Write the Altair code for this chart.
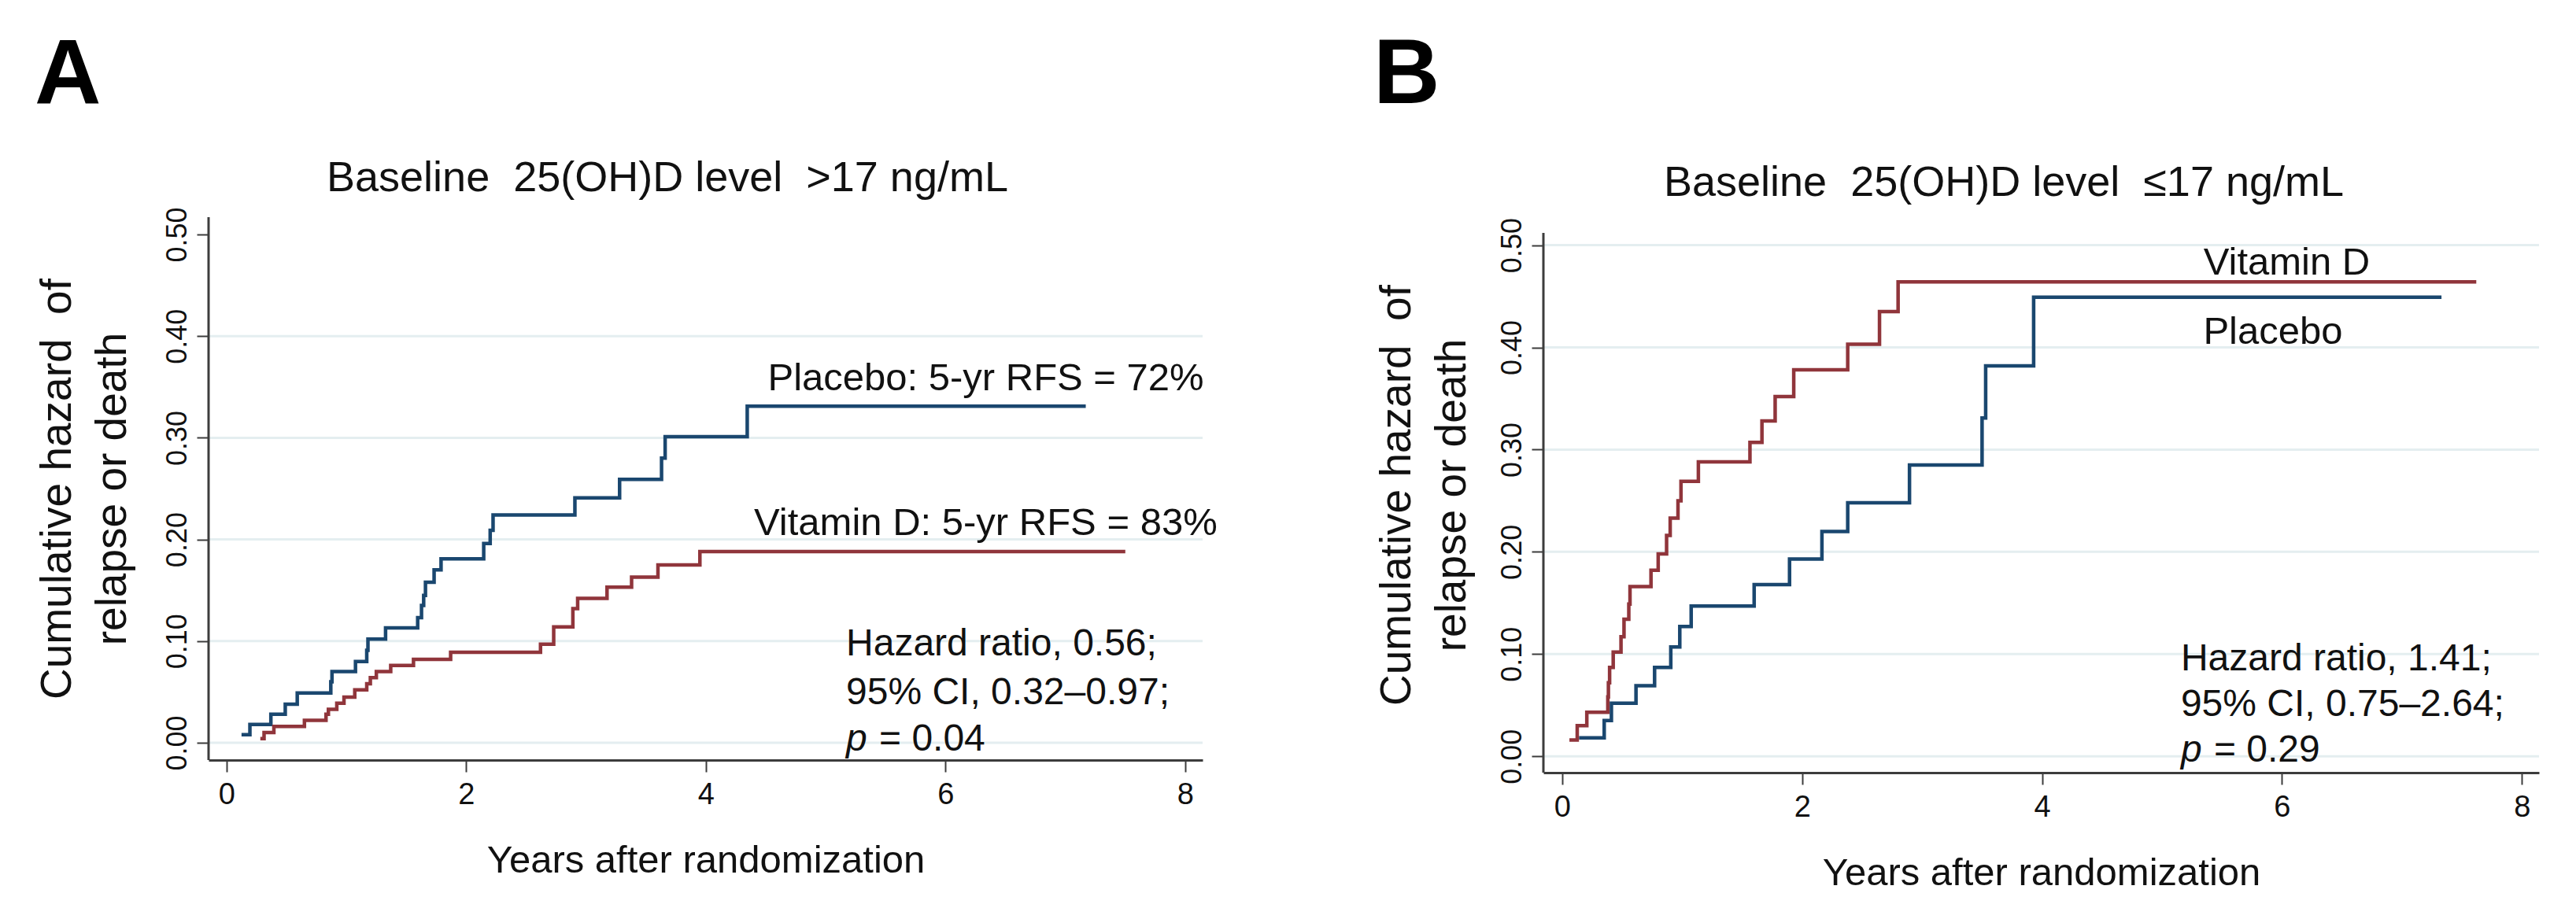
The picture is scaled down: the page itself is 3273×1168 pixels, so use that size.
import altair as alt
import pandas as pd

FONT = "Liberation Sans"
BLUE = "#1a476f"
RED = "#90353b"
GRID = "#e4eef0"
AXC = "#3c3c3c"
TXT = "#111111"

# ---------------- data ----------------
# Panel A: baseline 25(OH)D > 17 ng/mL
a_plac_t = [0.125, 0.195, 0.37, 0.49, 0.59, 0.87, 0.88, 1.076, 1.17, 1.18, 1.327, 1.595,
            1.627, 1.645, 1.66, 1.732, 1.79, 2.146, 2.20, 2.224, 2.907, 3.28, 3.63, 3.66,
            4.345, 7.17]
a_plac_h = [0.008, 0.018, 0.028, 0.038, 0.049, 0.060, 0.070, 0.080, 0.091, 0.102, 0.113, 0.123,
            0.135, 0.145, 0.158, 0.170, 0.181, 0.196, 0.209, 0.224, 0.241, 0.259, 0.280, 0.301,
            0.331, 0.331]
a_vitd_t = [0.282, 0.313, 0.395, 0.65, 0.83, 0.85, 0.92, 0.98, 1.07, 1.17, 1.20, 1.25, 1.37,
            1.56, 1.87, 2.62, 2.73, 2.89, 2.93, 3.175, 3.38, 3.60, 3.95, 7.50]
a_vitd_h = [0.004, 0.010, 0.016, 0.022, 0.028, 0.033, 0.039, 0.045, 0.052, 0.058, 0.064, 0.070,
            0.076, 0.082, 0.089, 0.097, 0.114, 0.132, 0.142, 0.153, 0.163, 0.175, 0.188, 0.188]

# Panel B: baseline 25(OH)D <= 17 ng/mL
b_plac_t = [0.14, 0.35, 0.41, 0.615, 0.77, 0.905, 0.98, 1.075, 1.60, 1.895, 2.165, 2.38,
            2.895, 3.50, 3.53, 3.93, 7.33]
b_plac_h = [0.018, 0.035, 0.052, 0.069, 0.087, 0.107, 0.127, 0.147, 0.168, 0.193, 0.220, 0.248,
            0.285, 0.331, 0.382, 0.449, 0.449]
b_vitd_t = [0.06, 0.125, 0.205, 0.38, 0.385, 0.395, 0.425, 0.49, 0.515, 0.555, 0.565, 0.74,
            0.80, 0.87, 0.90, 0.965, 0.99, 1.135, 1.565, 1.665, 1.775, 1.93, 2.38, 2.645,
            2.80, 7.62]
b_vitd_h = [0.016, 0.030, 0.043, 0.058, 0.072, 0.087, 0.102, 0.117, 0.134, 0.149, 0.166, 0.182,
            0.198, 0.216, 0.233, 0.250, 0.269, 0.288, 0.307, 0.328, 0.352, 0.378, 0.403, 0.435,
            0.464, 0.464]

groups = ["Placebo", "Vitamin D"]
x_ticks = [0, 2, 4, 6, 8]
y_ticks = [0.0, 0.1, 0.2, 0.3, 0.4, 0.5]
grid_a = [0.0, 0.1, 0.2, 0.3, 0.4]
grid_b = [0.0, 0.1, 0.2, 0.3, 0.4, 0.5]

title_a = "Baseline\u00a0\u00a025(OH)D level\u00a0\u00a0>17 ng/mL"
title_b = "Baseline\u00a0\u00a025(OH)D level\u00a0\u00a0\u226417 ng/mL"
y_title = ["Cumulative hazard\u00a0\u00a0of", "relapse or death"]
x_title = "Years after randomization"

a_labels = ["Placebo: 5-yr RFS = 72%", "Vitamin D: 5-yr RFS = 83%"]
a_label_x = [8.156, 8.268]
a_label_y = [0.3465, 0.2045]
b_labels = ["Vitamin D", "Placebo"]
b_label_x = [6.04, 5.925]
b_label_y = [0.471, 0.4034]

a_hr = ["Hazard ratio, 0.56;", "95% CI, 0.32\u20130.97;"]
a_hr_p = "= 0.04"
a_hr_x = 5.17
a_hr_y = [0.086, 0.038, -0.0077]
b_hr = ["Hazard ratio, 1.41;", "95% CI, 0.75\u20132.64;"]
b_hr_p = "= 0.29"
b_hr_x = 5.157
b_hr_y = [0.0839, 0.0393, -0.0054]


def steps(t_plac, h_plac, t_vitd, h_vitd):
    rows = []
    for t, h in zip(t_plac, h_plac):
        rows.append({"t": t, "h": h, "grp": groups[0]})
    for t, h in zip(t_vitd, h_vitd):
        rows.append({"t": t, "h": h, "grp": groups[1]})
    return pd.DataFrame(rows)


def panel(df, grid_vals, xdom, ydom, yaxis_top, w, h, letter, letter_xy, title, title_xy,
          lab_text, lab_x, lab_y, lab_align, hr_lines, hr_p, hr_x, hr_y, ytitle_x):
    xs = alt.Scale(domain=xdom, nice=False, zero=False)
    ys = alt.Scale(domain=ydom, nice=False, zero=False)

    xaxis = alt.Axis(values=x_ticks, format="d", title=x_title, grid=False,
                     labelFontSize=38, labelFont=FONT, labelColor=TXT,
                     titleFontSize=49, titleFont=FONT, titleFontWeight="normal", titleColor=TXT,
                     tickSize=15, tickWidth=2, tickColor=AXC, domainWidth=3, domainColor=AXC,
                     labelPadding=10, titlePadding=40, labelFlush=False, labelOverlap=False)
    yaxis = alt.Axis(values=y_ticks, format=".2f", title=y_title, grid=False, domain=False,
                     labelAngle=270, labelAlign="center", labelBaseline="bottom",
                     labelFontSize=36, labelFont=FONT, labelColor=TXT, labelPadding=6,
                     titleFontSize=55, titleFont=FONT, titleFontWeight="normal", titleColor=TXT,
                     titleLineHeight=70, titleX=ytitle_x,
                     tickSize=15, tickWidth=2, tickColor=AXC,
                     labelFlush=False, labelOverlap=False)

    X = lambda: alt.X("t:Q", scale=xs, axis=xaxis)
    Y = lambda: alt.Y("h:Q", scale=ys, axis=yaxis)

    gdf = pd.DataFrame({"h": grid_vals})
    grid = alt.Chart(gdf).mark_rule(color=GRID, strokeWidth=3).encode(y=Y())

    # y-axis line drawn as a rule through the scales (ends at the axis top)
    adf = pd.DataFrame({"t": [xdom[0]], "h": [ydom[0]], "h2": [yaxis_top]})
    axis_line = alt.Chart(adf).mark_rule(color=AXC, strokeWidth=3).encode(
        x=X(), y=Y(), y2="h2:Q")

    lines = alt.Chart(df).mark_line(interpolate="step-after", strokeWidth=4.5).encode(
        x=X(), y=Y(),
        color=alt.Color("grp:N", scale=alt.Scale(domain=groups, range=[BLUE, RED]), legend=None),
    )

    ldf = pd.DataFrame({"t": lab_x, "h": lab_y, "txt": lab_text})
    labels = alt.Chart(ldf).mark_text(align=lab_align, baseline="alphabetic", fontSize=49,
                                      font=FONT, color=TXT).encode(x=X(), y=Y(), text="txt:N")

    hdf = pd.DataFrame({"t": [hr_x, hr_x], "h": hr_y[:2], "txt": hr_lines})
    hr = alt.Chart(hdf).mark_text(align="left", baseline="alphabetic", fontSize=48,
                                  font=FONT, color=TXT).encode(x=X(), y=Y(), text="txt:N")
    pdf = pd.DataFrame({"t": [hr_x], "h": [hr_y[2]], "txt": ["p"]})
    hr_p1 = alt.Chart(pdf).mark_text(align="left", baseline="alphabetic", fontSize=48,
                                     font=FONT, fontStyle="italic", color=TXT).encode(
        x=X(), y=Y(), text="txt:N")
    pdf2 = pd.DataFrame({"t": [hr_x], "h": [hr_y[2]], "txt": [hr_p]})
    hr_p2 = alt.Chart(pdf2).mark_text(align="left", baseline="alphabetic", fontSize=48, dx=42,
                                      font=FONT, color=TXT).encode(x=X(), y=Y(), text="txt:N")

    tdf = pd.DataFrame({"txt": [title]})
    ttl = alt.Chart(tdf).mark_text(align="center", baseline="alphabetic", fontSize=54,
                                   font=FONT, color=TXT).encode(
        x=alt.value(title_xy[0]), y=alt.value(title_xy[1]), text="txt:N")
    ldf2 = pd.DataFrame({"txt": [letter]})
    let = alt.Chart(ldf2).mark_text(align="left", baseline="alphabetic", fontSize=117,
                                    fontWeight="bold", font=FONT, color="#000000").encode(
        x=alt.value(letter_xy[0]), y=alt.value(letter_xy[1]), text="txt:N")

    return alt.layer(grid, axis_line, lines, labels, hr, hr_p1, hr_p2, ttl, let).properties(
        width=w, height=h)


pa = panel(steps(a_plac_t, a_plac_h, a_vitd_t, a_vitd_h), grid_a, [-0.15, 8.145], [-0.017, 0.517],
           0.517, 1263, 690, "A", (-221, -144), title_a, (583, -33),
           a_labels, a_label_x, a_label_y, "right", a_hr, a_hr_p, a_hr_x, a_hr_y, -164)
pb = panel(steps(b_plac_t, b_plac_h, b_vitd_t, b_vitd_h), grid_b, [-0.157, 8.143], [-0.016, 0.5274],
           0.512, 1265, 706, "B", (-216, -145), title_b, (585, -27),
           b_labels, b_label_x, b_label_y, "center", b_hr, b_hr_p, b_hr_x, b_hr_y, -158)

chart = alt.hconcat(pa, pb, spacing=198).properties(
    padding={"left": 36, "top": 29, "right": 0, "bottom": 0}
).configure_view(stroke=None)

chart.save("out.html", embed_options={"renderer": "svg", "actions": False})
